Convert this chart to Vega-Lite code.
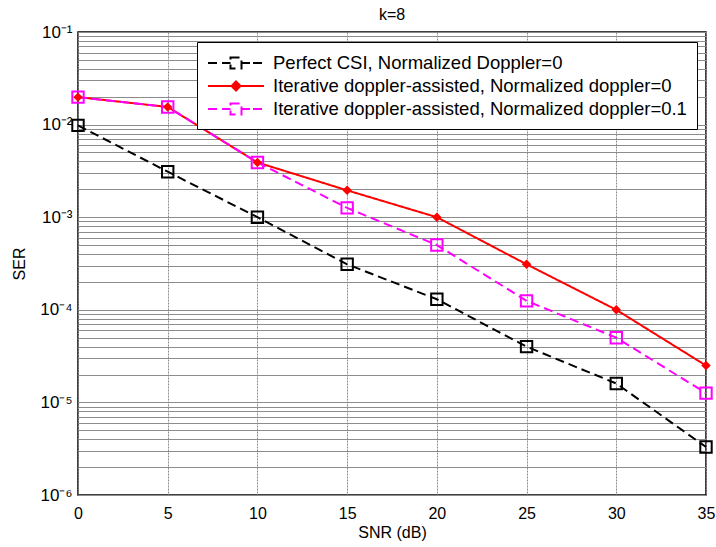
{
  "$schema": "https://vega.github.io/schema/vega-lite/v6.json",
  "width": 628,
  "height": 463,
  "autosize": {"type": "none"},
  "padding": {"left": 78, "top": 32, "right": 10, "bottom": 52},
  "background": "white",
  "title": {"text": "k=8", "fontSize": 16, "fontWeight": "normal", "font": "Liberation Sans", "color": "black", "anchor": "middle", "frame": "group", "offset": 0},
  "config": {
    "font": "Liberation Sans",
    "view": {"stroke": "black", "strokeWidth": 1.5},
    "axis": {"labelFont": "Liberation Sans", "titleFont": "Liberation Sans", "labelColor": "black", "titleColor": "black", "labelFontSize": 16, "titleFontSize": 16, "titleFontWeight": "normal", "gridColor": "#8c8c8c", "gridWidth": 1, "gridOpacity": 1, "domain": false, "ticks": false}
  },
  "data": {"values": [
    {"snr": 0, "ser": 0.0098, "series": "Perfect CSI, Normalized Doppler=0"},
    {"snr": 5, "ser": 0.0031, "series": "Perfect CSI, Normalized Doppler=0"},
    {"snr": 10, "ser": 0.001, "series": "Perfect CSI, Normalized Doppler=0"},
    {"snr": 15, "ser": 0.00031, "series": "Perfect CSI, Normalized Doppler=0"},
    {"snr": 20, "ser": 0.00013, "series": "Perfect CSI, Normalized Doppler=0"},
    {"snr": 25, "ser": 0.00004, "series": "Perfect CSI, Normalized Doppler=0"},
    {"snr": 30, "ser": 0.000016, "series": "Perfect CSI, Normalized Doppler=0"},
    {"snr": 35, "ser": 0.0000033, "series": "Perfect CSI, Normalized Doppler=0"},
    {"snr": 0, "ser": 0.0198, "series": "Iterative doppler-assisted, Normalized doppler=0"},
    {"snr": 5, "ser": 0.0155, "series": "Iterative doppler-assisted, Normalized doppler=0"},
    {"snr": 10, "ser": 0.0039, "series": "Iterative doppler-assisted, Normalized doppler=0"},
    {"snr": 15, "ser": 0.00195, "series": "Iterative doppler-assisted, Normalized doppler=0"},
    {"snr": 20, "ser": 0.001, "series": "Iterative doppler-assisted, Normalized doppler=0"},
    {"snr": 25, "ser": 0.00031, "series": "Iterative doppler-assisted, Normalized doppler=0"},
    {"snr": 30, "ser": 0.0001, "series": "Iterative doppler-assisted, Normalized doppler=0"},
    {"snr": 35, "ser": 0.000025, "series": "Iterative doppler-assisted, Normalized doppler=0"},
    {"snr": 0, "ser": 0.0198, "series": "Iterative doppler-assisted, Normalized doppler=0.1"},
    {"snr": 5, "ser": 0.0155, "series": "Iterative doppler-assisted, Normalized doppler=0.1"},
    {"snr": 10, "ser": 0.0039, "series": "Iterative doppler-assisted, Normalized doppler=0.1"},
    {"snr": 15, "ser": 0.00126, "series": "Iterative doppler-assisted, Normalized doppler=0.1"},
    {"snr": 20, "ser": 0.0005, "series": "Iterative doppler-assisted, Normalized doppler=0.1"},
    {"snr": 25, "ser": 0.000125, "series": "Iterative doppler-assisted, Normalized doppler=0.1"},
    {"snr": 30, "ser": 0.00005, "series": "Iterative doppler-assisted, Normalized doppler=0.1"},
    {"snr": 35, "ser": 0.0000126, "series": "Iterative doppler-assisted, Normalized doppler=0.1"}
  ]},
  "encoding": {
    "x": {"field": "snr", "type": "quantitative", "title": "SNR (dB)",
      "scale": {"domain": [0, 35], "nice": false, "zero": false},
      "axis": {"values": [0, 5, 10, 15, 20, 25, 30, 35], "labelPadding": 10, "titlePadding": 3, "labelFlush": false, "gridDash": [2, 1]}},
    "y": {"field": "ser", "type": "quantitative", "title": "SER",
      "scale": {"type": "log", "domain": [0.000001, 0.1], "nice": false},
      "axis": {"values": [0.000001, 0.000002, 0.000003, 0.000004, 0.000005, 0.000006, 0.000007, 0.000008, 0.000009, 0.00001, 0.00002, 0.00003, 0.00004, 0.00005, 0.00006, 0.00007, 0.00008, 0.00009, 0.0001, 0.0002, 0.0003, 0.0004, 0.0005, 0.0006, 0.0007, 0.0008, 0.0009, 0.001, 0.002, 0.003, 0.004, 0.005, 0.006, 0.007, 0.008, 0.009, 0.01, 0.02, 0.03, 0.04, 0.05, 0.06, 0.07, 0.08, 0.09, 0.1],
        "labelExpr": "datum.value == 0.1 ? '10⁻¹' : datum.value == 0.01 ? '10⁻²' : datum.value == 0.001 ? '10⁻³' : datum.value == 0.0001 ? '10⁻⁴' : datum.value == 0.00001 ? '10⁻⁵' : datum.value == 0.000001 ? '10⁻⁶' : ''",
        "labelOverlap": false, "labelFlush": false, "labelPadding": 6, "labelFontSize": 17, "titlePadding": 12}}
  },
  "layer": [
    {
      "mark": {"type": "line", "strokeWidth": 2},
      "encoding": {
        "color": {"field": "series", "type": "nominal",
          "scale": {"domain": ["Perfect CSI, Normalized Doppler=0", "Iterative doppler-assisted, Normalized doppler=0", "Iterative doppler-assisted, Normalized doppler=0.1"], "range": ["#000000", "#ff0000", "#ff00ff"]},
          "legend": {"title": null, "orient": "none", "legendX": 119, "legendY": 10, "direction": "vertical",
            "fillColor": "white", "strokeColor": "black", "padding": 10,
            "labelFontSize": 18.5, "labelFont": "Liberation Sans", "labelColor": "black",
            "labelOffset": 44, "rowPadding": 2, "labelLimit": 0,
            "symbolSize": 400, "symbolStrokeWidth": 2, "symbolFillColor": "transparent",
            "encode": {"symbols": {"update": {
              "shape": {"signal": "indexof(datum.value, 'Perfect') >= 0 || indexof(datum.value, '0.1') >= 0 ? 'M-1,0L0,0M0.4,0L1.25,0M2.35,0L3.2,0M3.5,0L4.6,0M1.25,-0.55L2.35,-0.55L2.35,0.55L1.25,0.55L1.25,-0.55L2.35,-0.55' : 'M-1,0L4.6,0M1.8,-0.45L2.25,0L1.8,0.45L1.35,0ZM1.8,-0.25L2.05,0L1.8,0.25L1.55,0Z'"},
              "fill": {"signal": "indexof(datum.value, 'Perfect') < 0 && indexof(datum.value, '0.1') < 0 ? '#ff0000' : 'transparent'"},
              "fillOpacity": {"signal": "indexof(datum.value, 'Perfect') < 0 && indexof(datum.value, '0.1') < 0 ? 1 : 0"},
              "strokeDash": {"value": []},
              "size": {"value": 400},
              "strokeWidth": {"value": 2},
              "opacity": {"value": 1}
            }}}}},
        "strokeDash": {"field": "series", "type": "nominal", "legend": null,
          "scale": {"domain": ["Perfect CSI, Normalized Doppler=0", "Iterative doppler-assisted, Normalized doppler=0", "Iterative doppler-assisted, Normalized doppler=0.1"], "range": [[9, 5], [1, 0], [9, 5]]}}
      }
    },
    {
      "transform": [{"filter": "datum.series != 'Iterative doppler-assisted, Normalized doppler=0'"}],
      "mark": {"type": "point", "shape": "square", "filled": false, "size": 130, "strokeWidth": 2, "opacity": 1},
      "encoding": {"color": {"field": "series", "type": "nominal", "legend": null}}
    },
    {
      "transform": [{"filter": "datum.series == 'Iterative doppler-assisted, Normalized doppler=0'"}],
      "mark": {"type": "point", "shape": "diamond", "filled": true, "size": 90, "opacity": 1},
      "encoding": {"color": {"field": "series", "type": "nominal", "legend": null}}
    }
  ]
}
